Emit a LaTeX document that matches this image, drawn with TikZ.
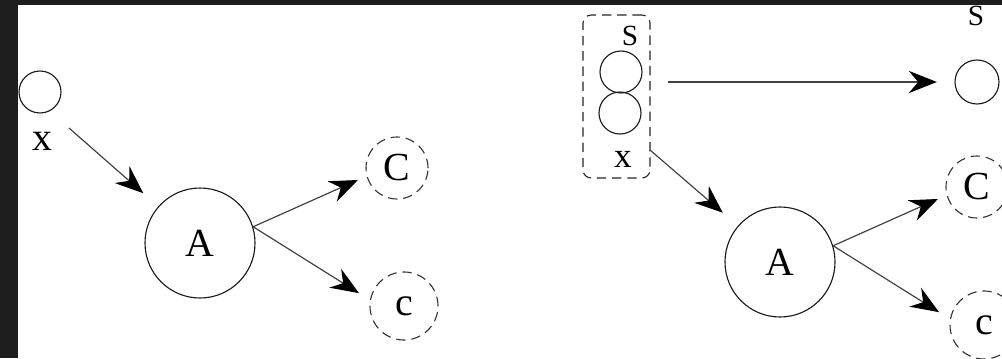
\documentclass[tikz,border=0pt]{standalone}
\usepackage{fontspec}
\setmainfont{Liberation Serif}
\usetikzlibrary{arrows.meta,calc}
\definecolor{frame}{HTML}{1E1E1E}
\definecolor{linec}{HTML}{404040}
\tikzset{
  solidc/.style={circle,draw=black!90,line width=0.95pt,inner sep=0pt},
  dashc/.style={circle,draw=black!80,line width=0.95pt,inner sep=0pt,dash pattern=on 8pt off 5pt},
  conn/.style={draw=linec,line width=1pt,-{Stealth[length=24pt,width=19pt,inset=8pt,color=black,fill=black]}},
  big/.style={font=\fontsize{34}{40}\selectfont},
  lab/.style={font=\fontsize{34}{40}\selectfont,anchor=base,inner sep=0pt},
  slab/.style={font=\fontsize{25}{30}\selectfont,anchor=base,inner sep=0pt},
}
\begin{document}
\begin{tikzpicture}[x=0.03cm,y=-0.03cm]
\fill[frame] (0,0) rectangle (1002,358);
\fill[white] (17.5,5) rectangle (1002,358);
\useasboundingbox (0,0) rectangle (1002,358);
% ---------- left panel ----------
\node[solidc,minimum size=1.26cm] (xc) at (40,92) {};
\node[lab] (xl) at (42,150) {x};
\node[solidc,minimum size=3.3cm,big] (A) at (200,243) {A};
\node[dashc,minimum size=1.86cm,big] (C) at (397,168) {C};
\node[dashc,minimum size=2.04cm,big] (c) at (404,306) {c};
\coordinate (xs) at (69,128);
\draw[conn,shorten >=17pt] (xs) -- (A);
\draw[conn,shorten >=8pt] (A.17) -- (C.195);
\draw[conn,shorten >=11pt] (A.17) -- (c.170);
% ---------- right panel ----------
\node[draw=black!85,line width=0.95pt,dash pattern=on 8pt off 5pt,rounded corners=7pt,
      minimum width=2.01cm,minimum height=4.89cm] (box) at (616.5,96.5) {};
\node[slab] (Sl) at (630,45) {S};
\node[solidc,minimum size=1.26cm] (s1) at (621,72) {};
\node[solidc,minimum size=1.26cm] (s2) at (620,113) {};
\node[lab,font=\fontsize{30}{36}\selectfont] (xr) at (623,167) {x};
\node[slab] (Sr) at (976,25) {S};
\node[solidc,minimum size=1.32cm] (S2) at (977,82) {};
\node[solidc,minimum size=3.3cm,big] (A2) at (780,262) {A};
\node[dashc,minimum size=1.86cm,big] (C2) at (977,187) {C};
\node[dashc,minimum size=2.04cm,big] (c2) at (984,325) {c};
\coordinate (hs) at (668,82);
\coordinate (bs) at (650,150);
\draw[conn,shorten >=15pt] (hs) -- (S2);
\draw[conn,shorten >=17pt] (bs) -- (A2);
\draw[conn,shorten >=8pt] (A2.17) -- (C2.195);
\draw[conn,shorten >=11pt] (A2.17) -- (c2.170);
\end{tikzpicture}
\end{document}
